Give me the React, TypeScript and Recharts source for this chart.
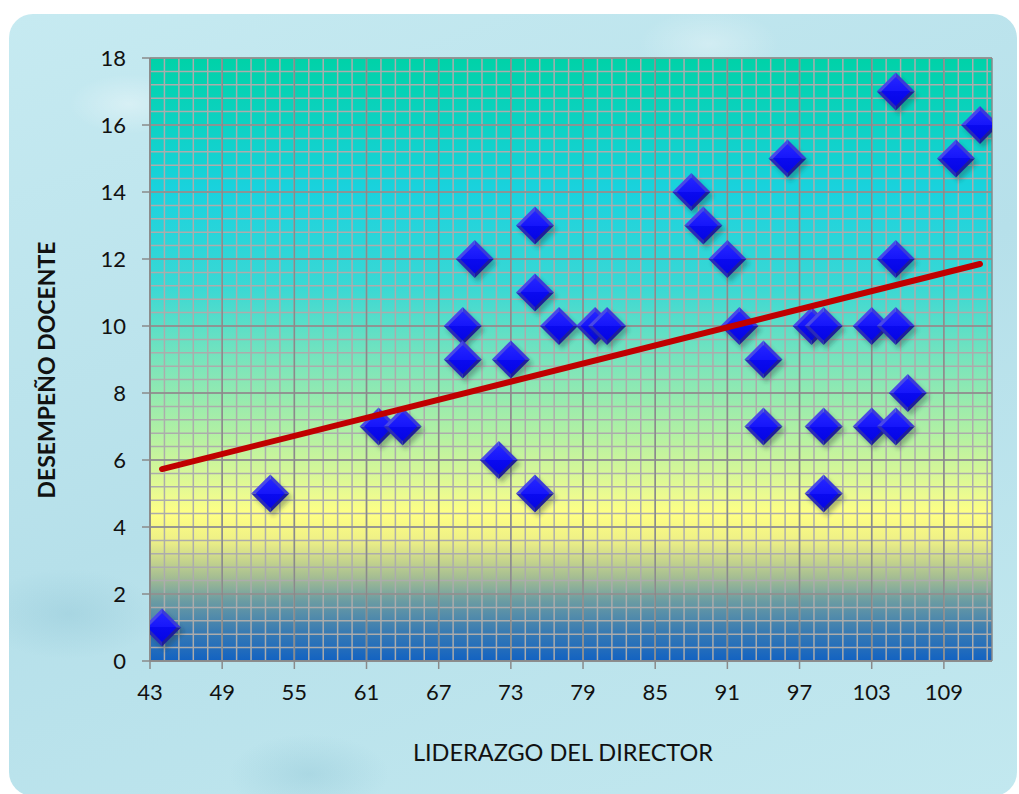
import React from "react"
import { ScatterChart, Scatter, XAxis, YAxis, CartesianGrid } from "recharts"

// Liderazgo del director (x) vs desempeño docente (y)
const liderazgo = [44, 53, 62, 64, 69, 69, 70, 72, 73, 75, 75, 75, 77, 80, 81, 88, 89, 91, 92, 94, 94, 96, 98, 99, 99, 99, 103, 103, 105, 105, 105, 105, 106, 110, 112]
const desempeno = [1, 5, 7, 7, 10, 9, 12, 6, 9, 13, 11, 5, 10, 10, 10, 14, 13, 12, 10, 9, 7, 15, 10, 10, 7, 5, 10, 7, 17, 12, 10, 7, 8, 15, 16]

// linear trendline end points
const trendX = [44, 112]
const trendY = [5.73, 11.85]

const xTicks = [43, 49, 55, 61, 67, 73, 79, 85, 91, 97, 103, 109]
const yTicks = [0, 2, 4, 6, 8, 10, 12, 14, 16, 18]
const xDomain = [43, 113]
const yDomain = [0, 18]

const points = liderazgo.map((x, i) => ({ x, y: desempeno[i] }))
const trend = trendX.map((x, i) => ({ x, y: trendY[i] }))

// minor gridlines: 5 per major step
const minorX = Array.from({ length: 59 }, (_, k) => +(43 + 1.2 * k).toFixed(2))
const minorY = Array.from({ length: 46 }, (_, k) => +(0.4 * k).toFixed(2))

const font = "Lato, 'Open Sans', sans-serif"

// map a value through the axis scale, falling back to the plot offset
function mapValue(axis: any, v: number, fallback: number) {
  const s = axis?.scale
  if (typeof s === "function") return s(v)
  if (s && typeof s.map === "function") {
    const r = s.map(v)
    if (typeof r === "number" && !Number.isNaN(r)) return r
  }
  return fallback
}

function minorVertical({ xAxis, offset }: any) {
  return minorX.map((v) =>
    mapValue(xAxis, v, offset.left + ((v - xDomain[0]) / (xDomain[1] - xDomain[0])) * offset.width)
  )
}

function minorHorizontal({ yAxis, offset }: any) {
  return minorY.map((v) =>
    mapValue(yAxis, v, offset.top + (1 - (v - yDomain[0]) / (yDomain[1] - yDomain[0])) * offset.height)
  )
}

function Diamond(props: any) {
  const { cx, cy } = props
  if (cx == null || cy == null) return <g />
  const r = 19
  const ri = 14.5
  const d = (s: number, ox = 0, oy = 0) =>
    `${cx + ox},${cy - s + oy} ${cx + s + ox},${cy + oy} ${cx + ox},${cy + s + oy} ${cx - s + ox},${cy + oy}`
  return (
    <g>
      <polygon points={d(r, 3, 4)} fill="rgba(40,60,60,0.35)" filter="url(#dshadow)" />
      {/* bevel facets */}
      <polygon points={`${cx},${cy - r} ${cx + r},${cy} ${cx},${cy}`} fill="#3a3ad8" />
      <polygon points={`${cx},${cy - r} ${cx - r},${cy} ${cx},${cy}`} fill="#4848e8" />
      <polygon points={`${cx - r},${cy} ${cx},${cy + r} ${cx},${cy}`} fill="#2a2ab8" />
      <polygon points={`${cx + r},${cy} ${cx},${cy + r} ${cx},${cy}`} fill="#1e1e98" />
      <polygon points={d(ri)} fill="url(#diamondFace)" />
    </g>
  )
}

export default function App() {
  return (
    <div style={{ position: "absolute", left: 0, top: 0, width: 1019, height: 794, background: "#fff", overflow: "hidden" }}>
      <svg width={0} height={0} style={{ position: "absolute" }}>
        <defs>
          <linearGradient id="plotBg" x1="0" y1="0" x2="0" y2="1">
            <stop offset="0" stopColor="#00d2a8" />
            <stop offset="0.22" stopColor="#1ad2de" />
            <stop offset="0.38" stopColor="#3ad8d4" />
            <stop offset="0.5" stopColor="#78e4bc" />
            <stop offset="0.62" stopColor="#b0f0a4" />
            <stop offset="0.72" stopColor="#e8fa92" />
            <stop offset="0.755" stopColor="#ffff84" />
            <stop offset="0.8" stopColor="#eef086" />
            <stop offset="0.86" stopColor="#a6be92" />
            <stop offset="0.9" stopColor="#6c9ca2" />
            <stop offset="0.95" stopColor="#3a7cb2" />
            <stop offset="1" stopColor="#1262c2" />
          </linearGradient>
          <linearGradient id="diamondFace" x1="0" y1="0" x2="0" y2="1">
            <stop offset="0" stopColor="#2424ff" />
            <stop offset="0.5" stopColor="#1616fa" />
            <stop offset="0.5" stopColor="#0a0af0" />
            <stop offset="1" stopColor="#0606e4" />
          </linearGradient>
          <filter id="dshadow" x="-50%" y="-50%" width="200%" height="200%">
            <feGaussianBlur stdDeviation="2" />
          </filter>
        </defs>
      </svg>
      <div
        style={{
          position: "absolute",
          left: 9,
          top: 14,
          width: 1008,
          height: 782,
          borderRadius: 24,
          background:
            "radial-gradient(ellipse 60px 30px at 120px 90px, rgba(255,255,255,0.35), transparent)," +
            "radial-gradient(ellipse 80px 40px at 300px 760px, rgba(120,180,200,0.25), transparent)," +
            "radial-gradient(ellipse 70px 35px at 700px 30px, rgba(255,255,255,0.3), transparent)," +
            "radial-gradient(ellipse 90px 45px at 60px 600px, rgba(120,180,200,0.25), transparent)," +
            "linear-gradient(160deg, #c6eaf1 0%, #b6e0ea 50%, #c2e8ef 100%)",
        }}
      />
      <div style={{ position: "absolute", left: 0, top: 0 }}>
        <ScatterChart width={1019} height={794} margin={{ top: 58, right: 27, bottom: 0, left: 0 }}>
          <CartesianGrid
            fill="url(#plotBg)"
            fillOpacity={1}
            stroke="#acacac"
            strokeWidth={1.5}
            verticalCoordinatesGenerator={minorVertical}
            horizontalCoordinatesGenerator={minorHorizontal}
          />
          <CartesianGrid fill="none" stroke="#8a8a8a" strokeWidth={1.5} />
          <XAxis
            type="number"
            dataKey="x"
            domain={xDomain}
            ticks={xTicks}
            interval={0}
            height={133}
            allowDataOverflow
            stroke="#8a8a8a"
            strokeWidth={1.5}
            tickSize={8}
            tickMargin={15}
            tick={{ fill: "#111", fontSize: 22, fontFamily: font }}
          />
          <YAxis
            type="number"
            dataKey="y"
            domain={yDomain}
            ticks={yTicks}
            interval={0}
            width={150}
            allowDataOverflow
            stroke="#8a8a8a"
            strokeWidth={1.5}
            tickSize={8}
            tickMargin={16}
            tick={{ fill: "#111", fontSize: 22, fontFamily: font }}
          />
          <Scatter data={points} shape={Diamond} isAnimationActive={false} />
          <Scatter
            data={trend}
            line={{ stroke: "#c00000", strokeWidth: 6, strokeLinecap: "round" }}
            shape={() => <g />}
            isAnimationActive={false}
          />
        </ScatterChart>
      </div>
      <div
        style={{
          position: "absolute",
          left: 563,
          top: 752,
          transform: "translate(-50%, -50%)",
          fontFamily: font,
          fontSize: 23.5,
          color: "#111",
          whiteSpace: "nowrap",
        }}
      >
        LIDERAZGO DEL DIRECTOR
      </div>
      <div
        style={{
          position: "absolute",
          left: 46,
          top: 370,
          transform: "translate(-50%, -50%) rotate(-90deg)",
          fontFamily: font,
          fontSize: 23,
          fontWeight: "bold",
          color: "#111",
          whiteSpace: "nowrap",
        }}
      >
        DESEMPEÑO DOCENTE
      </div>
    </div>
  )
}
